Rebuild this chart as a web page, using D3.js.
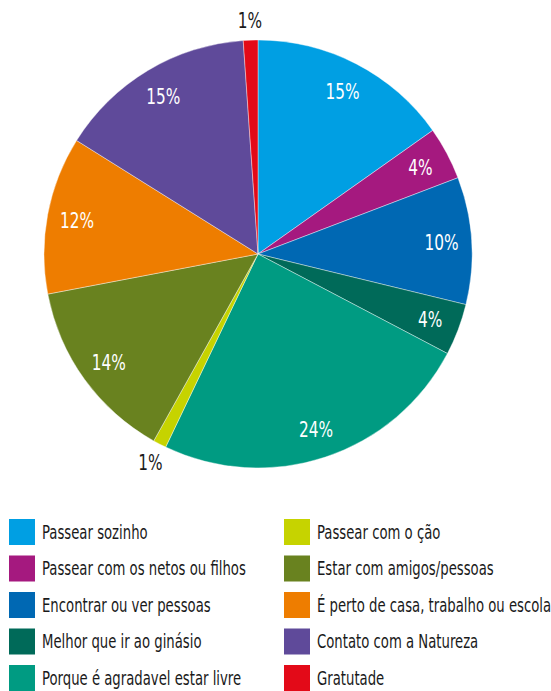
<!DOCTYPE html>
<html>
<head>
<meta charset="utf-8">
<script src="https://cdn.jsdelivr.net/npm/d3@7"></script>
<style>
  body { margin: 0; background: #fff; }
  text { font-family: "DejaVu Sans Condensed", "DejaVu Sans", sans-serif; font-stretch: condensed; }
</style>
</head>
<body>
<svg id="chart"></svg>
<script>
// categories, in the order they go clockwise from the top
const categories = [
  'Passear sozinho',
  'Passear com os netos ou filhos',
  'Encontrar ou ver pessoas',
  'Melhor que ir ao ginásio',
  'Porque é agradavel estar livre',
  'Passear com o ção',
  'Estar com amigos/pessoas',
  'É perto de casa, trabalho ou escola',
  'Contato com a Natureza',
  'Gratutade'
];
// share in percent
const values = [15.2, 4.0, 9.6, 3.9, 24.4, 1.0, 13.9, 11.9, 15.0, 1.1];
const colors = ['#009fe3', '#a5197f', '#0068b3', '#006a59', '#009b82', '#c6d300', '#69821f', '#ee7d00', '#5f4a9a', '#e30a18'];
// legend order (two columns)
const legendLeft = [0, 1, 2, 3, 4];
const legendRight = [5, 6, 7, 8, 9];

const width = 551, height = 691;
const cx = 258, cy = 254, radius = 214;
const squeeze = 0.775; // the original font is a narrow one

const svg = d3.select('#chart')
  .attr('width', width)
  .attr('height', height);

const pie = d3.pie().sort(null).value(d => d);
const arcs = pie(values);

const arc = d3.arc().innerRadius(0).outerRadius(radius);
const labelArc = d3.arc().innerRadius(184).outerRadius(184);
const outerArc = d3.arc().innerRadius(234).outerRadius(234);

const g = svg.append('g').attr('transform', `translate(${cx},${cy})`);

g.selectAll('path')
  .data(arcs)
  .join('path')
  .attr('d', arc)
  .attr('fill', (d, i) => colors[i])
  .attr('stroke', '#fff')
  .attr('stroke-width', 0.4);

// labels: small slices get theirs outside
g.selectAll('text.lbl')
  .data(arcs)
  .join('text')
  .attr('class', 'lbl')
  .attr('transform', d => `translate(${(d.data < 2 ? outerArc : labelArc).centroid(d)}) scale(${squeeze},1)`)
  .attr('text-anchor', 'middle')
  .attr('dy', '0.36em')
  .style('font-size', '22px')
  .style('fill', d => d.data < 2 ? '#1a1a1a' : '#fff')
  .text(d => Math.round(d.data) + '%');

// legend
function legendColumn(idx, x0) {
  const rows = svg.append('g').selectAll('g')
    .data(idx)
    .join('g')
    .attr('transform', (d, i) => `translate(${x0},${519 + i * 36.5})`);
  rows.append('rect')
    .attr('width', 26).attr('height', 26)
    .attr('fill', d => colors[d]);
  rows.append('text')
    .attr('transform', `translate(33,13) scale(${squeeze},1)`)
    .attr('dy', '0.36em')
    .style('font-size', '19px')
    .style('fill', '#1a1a1a')
    .text(d => categories[d]);
}
legendColumn(legendLeft, 9);
legendColumn(legendRight, 284);
</script>
</body>
</html>
